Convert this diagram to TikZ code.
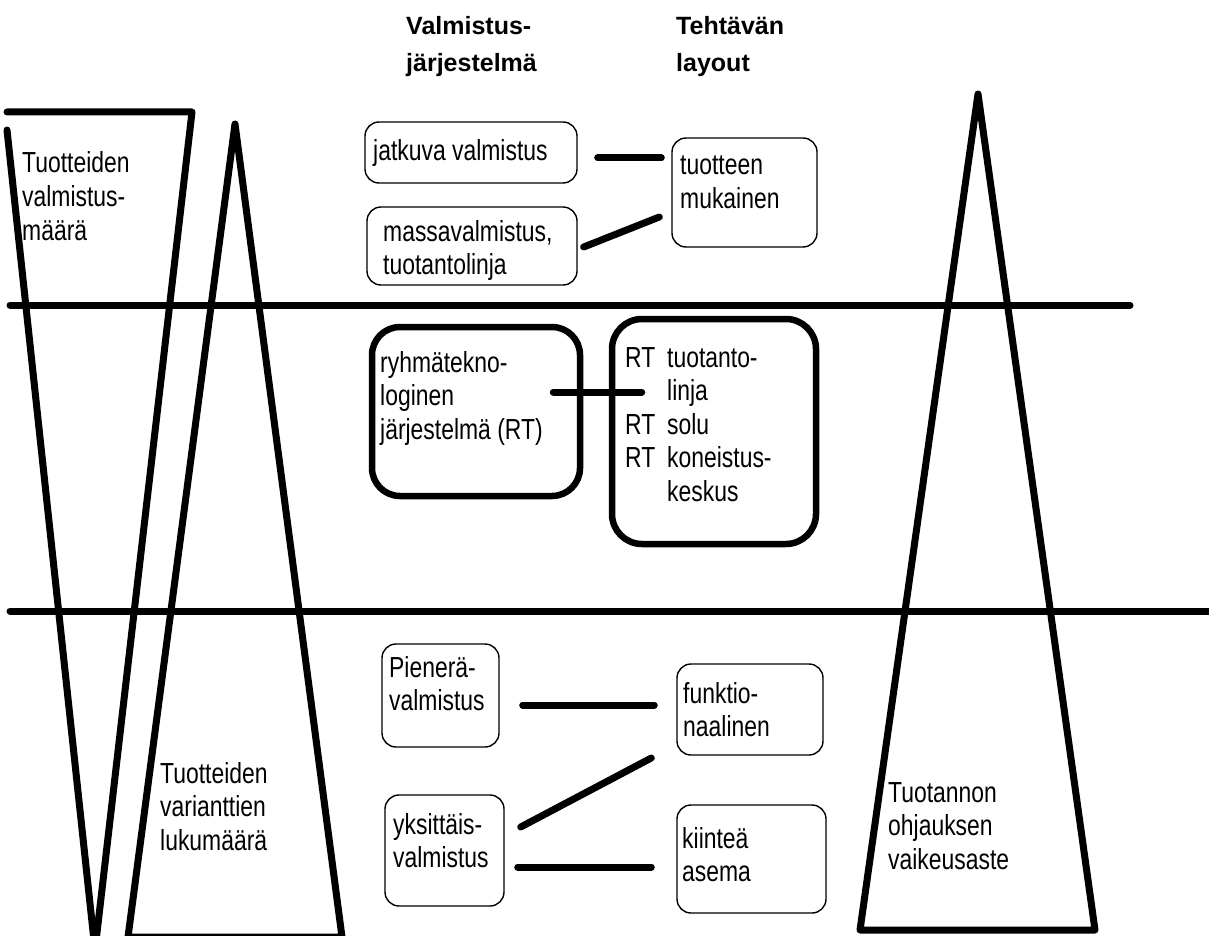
\documentclass[tikz,border=0pt]{standalone}
\usepackage{fontspec}
\setmainfont{Liberation Sans}
\newfontfamily\narrowfont{Liberation Sans}[FakeStretch=0.79]
\usetikzlibrary{calc,fit}
% left-aligned stack of lines whose baseline is that of the first line
\newcommand\txtstack[2][33.5pt]{\vtop{\baselineskip=#1\relax\halign{##\hfil\cr#2\crcr}}}
% two-column list inside the group-technology layout box
\newcommand\rtlist{\vtop{\baselineskip=33.5pt\relax
  \halign{\hbox to 42pt{##\hfil}&##\hfil\cr
    RT&tuotanto-\cr
      &linja\cr
    RT&solu\cr
    RT&koneistus-\cr
      &keskus\crcr}}}
\tikzset{
  bar/.style={line width=7pt, line cap=round, line join=round},
  tbox/.style={draw, line width=1.4pt, rounded corners=14pt, inner sep=0pt},
  kbox/.style={draw, line width=6.5pt, rounded corners=28pt, inner sep=0pt},
  lbl/.style={inner sep=0pt, anchor=base west,
    font=\narrowfont\fontsize{29}{33.5}\selectfont},
  head/.style={inner sep=0pt, anchor=base west,
    font=\bfseries\fontsize{25}{37}\selectfont},
  link/.style={line width=7pt, line cap=round},
}
\begin{document}
\begin{tikzpicture}[x=1pt, y=-1pt]
\useasboundingbox (0,0) rectangle (1209,936);
\clip (0,0) rectangle (1209,936);

% column headings
\node[head] (hdsys) at (406,35) {\txtstack[37pt]{Valmistus-\cr järjestelmä}};
\node[head] (hdlay) at (676,35) {\txtstack[37pt]{Tehtävän\cr layout}};

% volume funnel (wide at the top)
\draw[bar] (7,112) -- (192,112) -- (95,950);
\draw[bar] (7,130) -- (95,950);
\node[lbl] (vol) at (22,173) {\txtstack{Tuotteiden\cr valmistus-\cr määrä}};

% variety triangle (wide at the bottom)
\draw[bar] (128,937) -- (235,124) -- (342,937) -- cycle;
\node[lbl] (var) at (160,783) {\txtstack{Tuotteiden\cr varianttien\cr lukumäärä}};

% control difficulty triangle
\draw[bar] (860,930) -- (978,94) -- (1095,930) -- cycle;
\node[lbl] (ctl) at (888,802) {\txtstack{Tuotannon\cr ohjauksen\cr vaikeusaste}};

% band separators
\draw[bar] (10,305) -- (1130,305);
\draw[bar] (10,611) -- (1215,611);

% upper band: flow production
\node[tbox, fit={(365,122) (577,183)}] (jat) {};
\node[lbl] (jatT) at (373,161) {jatkuva valmistus};
\node[tbox, fit={(367,207) (577,285)}] (mas) {};
\node[lbl] (masT) at (383,241) {\txtstack{massavalmistus,\cr tuotantolinja}};
\node[tbox, fit={(672,138) (817,247)}] (tuo) {};
\node[lbl] (tuoT) at (680,175) {\txtstack{tuotteen\cr mukainen}};
\draw[link] ($(jat.east)+(20,5.5)$) -- ($(tuo.west)+(-10,-34.5)$);
\draw[link] ($(mas.east)+(6,1)$) -- ($(tuo.west)+(-12,24.5)$);

% middle band: group technology
\node[kbox, fit={(372,327) (580,496)}] (ryh) {};
\node[lbl] (ryhT) at (380,372) {\txtstack{ryhmätekno-\cr loginen\cr järjestelmä (RT)}};
\node[kbox, rounded corners=30pt, fit={(612,319) (816,544)}] (rt) {};
\node[lbl] (rtT) at (625,367) {\rtlist};
\draw[link] ($(ryh.east)+(-30,-19.5)$) -- ($(rt.west)+(33,-39.5)$);

% lower band: job shop and one-off production
\node[tbox, fit={(382,644) (499,747)}] (pie) {};
\node[lbl] (pieT) at (389,677) {\txtstack{Pienerä-\cr valmistus}};
\node[tbox, fit={(677,664) (823,755)}] (fun) {};
\node[lbl] (funT) at (683,703) {\txtstack{funktio-\cr naalinen}};
\node[tbox, fit={(385,795) (504,906)}] (yks) {};
\node[lbl] (yksT) at (393,834) {\txtstack{yksittäis-\cr valmistus}};
\node[tbox, fit={(677,805) (826,913)}] (kii) {};
\node[lbl] (kiiT) at (682,848) {\txtstack{kiinteä\cr asema}};
\draw[link] ($(pie.east)+(23,9.5)$) -- ($(fun.west)+(-22,-4.5)$);
\draw[link] ($(yks.east)+(16,-23.5)$) -- ($(fun.west)+(-25,48.5)$);
\draw[link] ($(yks.east)+(13,16.5)$) -- ($(kii.west)+(-25,8)$);
\end{tikzpicture}
\end{document}
